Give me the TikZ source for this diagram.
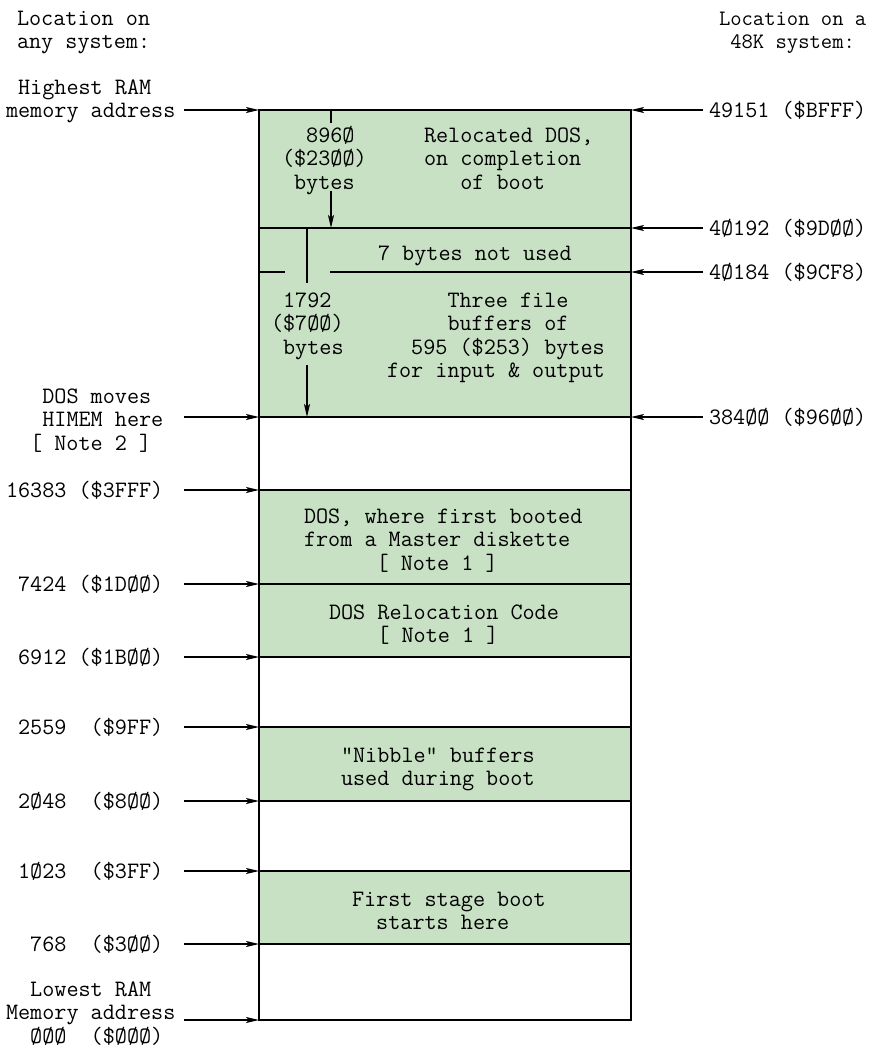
\documentclass[tikz,border=0pt]{standalone}
\usetikzlibrary{arrows.meta}
\definecolor{memgreen}{RGB}{200,225,196}
\newcommand\tsp{\phantom{0}}
\begin{document}
\begin{tikzpicture}[x=1pt,y=-1pt,
  tx/.style={inner sep=0pt, outer sep=0pt, anchor=north west, align=left, yshift=-2pt,
             font=\fontsize{23.5}{23.5}\selectfont\ttfamily},
  txs/.style={tx, font=\fontsize{22}{23.5}\selectfont\ttfamily},
  arr/.style={line width=1.6pt, -{Stealth[length=13pt,width=6pt,inset=3pt]}},
  edgeline/.style={line width=1.8pt},
]
\useasboundingbox[fill=white] (0,0) rectangle (869,1050);

% ---- memory block ----
\fill[memgreen] (259,110) rectangle (631,417);
\fill[memgreen] (259,490) rectangle (631,657);
\fill[memgreen] (259,727) rectangle (631,801);
\fill[memgreen] (259,871) rectangle (631,944);
\foreach \y in {228,417,490,584,657,727,801,871,944}
  \draw[edgeline] (259,\y) -- (631,\y);
\draw[edgeline] (259,272) -- (285,272);
\draw[edgeline] (330,272) -- (631,272);
\draw[edgeline] (259,110) rectangle (631,1020);

% ---- headers ----
\node[tx] (hdrL) at (17,7) {\strut Location on\\\strut any system:};
\node[txs] (hdrR) at (719,7) {\strut Location on a\\\strut\tsp 48K system:};

% ---- left labels ----
\node[tx] (hiram) at (6,76) {\strut\tsp Highest RAM\\\strut memory address};
\node[tx] (himem) at (6,385) {\strut\tsp\tsp\tsp DOS moves\\\strut\tsp\tsp\tsp HIMEM here\\\strut\tsp\tsp [ Note 2 ]};
\node[tx] (a16383) at (6,479) {\strut 16383 (\$3FFF)};
\node[tx] (a7424) at (6,573) {\strut\tsp 7424 (\$1DØØ)};
\node[tx] (a6912) at (6,646) {\strut\tsp 6912 (\$1BØØ)};
\node[tx] (a2559) at (6,716) {\strut\tsp 2559\tsp\tsp(\$9FF)};
\node[tx] (a2048) at (6,790) {\strut\tsp 2Ø48\tsp\tsp(\$8ØØ)};
\node[tx] (a1023) at (6,860) {\strut\tsp 1Ø23\tsp\tsp(\$3FF)};
\node[tx] (a768) at (6,933) {\strut\tsp\tsp 768\tsp\tsp(\$3ØØ)};
\node[tx, font=\fontsize{23.5}{23}\selectfont\ttfamily] (loram) at (6,978) {\strut\tsp\tsp Lowest RAM\\\strut Memory address\\\strut\tsp\tsp ØØØ\tsp\tsp(\$ØØØ)};

% ---- right labels ----
\node[tx] (r49151) at (709,99) {\strut 49151 (\$BFFF)};
\node[tx] (r40192) at (709,217) {\strut 4Ø192 (\$9DØØ)};
\node[tx] (r40184) at (709,261) {\strut 4Ø184 (\$9CF8)};
\node[tx] (r38400) at (709,406) {\strut 384ØØ (\$96ØØ)};

% ---- block texts ----
\node[tx] (sz8960) at (282,124) {\strut\tsp\tsp 896Ø\\\strut(\$23ØØ)\\\strut\tsp bytes};
\node[tx] (reloc) at (424,124) {\strut Relocated DOS,\\\strut on completion\\\strut\tsp\tsp\tsp of boot};
\node[tx] (unused) at (378,242) {\strut 7 bytes not used};
\node[tx] (sz1792) at (271,289) {\strut\tsp 1792\\\strut(\$7ØØ)\\\strut\tsp bytes};
\node[tx] (fbuf) at (387,289) {\strut\tsp\tsp\tsp\tsp\tsp Three file\\\strut\tsp\tsp\tsp\tsp\tsp buffers of\\\strut\tsp\tsp 595 (\$253) bytes\\\strut for input \& output};
\node[tx] (dosfirst) at (304,505) {\strut DOS, where first booted\\\strut from a Master diskette\\\strut\tsp\tsp\tsp\tsp\tsp\tsp [ Note 1 ]};
\node[tx] (relcode) at (329,601) {\strut DOS Relocation Code\\\strut\tsp\tsp\tsp\tsp [ Note 1 ]};
\node[tx] (nibble) at (341,744) {\strut "Nibble" buffers\\\strut used during boot};
\node[tx] (stage1) at (352,888) {\strut First stage boot\\\strut\tsp\tsp starts here};

% ---- size markers ----
\coordinate (t1top) at (331,110);
\coordinate (t1a) at (331,123);
\coordinate (t1b) at (331,191);
\coordinate (t1bot) at (331,228);
\draw[edgeline] (t1top) -- (t1a);
\draw[arr] (t1b) -- (t1bot);
\coordinate (t2top) at (307,228);
\coordinate (t2a) at (307,283);
\coordinate (t2b) at (307,365);
\coordinate (t2bot) at (307,417);
\draw[edgeline] (t2top) -- (t2a);
\draw[arr] (t2b) -- (t2bot);

% ---- left arrows ----
\foreach \n/\y in {hi/110,himem/417,b16383/490,b7424/584,b6912/657,b2559/727,b2048/801,b1023/871,b768/944,lo/1020}{
  \coordinate (lt-\n) at (184,\y);
  \coordinate (lh-\n) at (259,\y);
  \draw[arr] (lt-\n) -- (lh-\n);
}
% ---- right arrows ----
\foreach \n/\y in {r1/110,r2/228,r3/272,r4/417}{
  \coordinate (rt-\n) at (703,\y);
  \coordinate (rh-\n) at (631,\y);
  \draw[arr] (rt-\n) -- (rh-\n);
}
\end{tikzpicture}
\end{document}
